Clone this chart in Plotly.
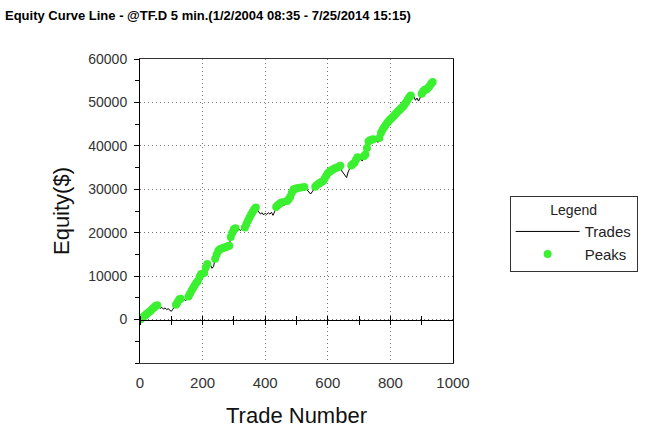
import plotly.graph_objects as go

trade_step = 5
equity = [
    0, 300, 600, 900, 1200, 1500, 1800, 2100, 2500, 2800,
    3100, 3300, 2900, 2600, 2800, 2400, 2700, 2300, 2500, 2100,
    1900, 2400, 3000, 3400, 4000, 4600, 4800, 4500, 4700, 4400,
    4600, 5300, 6000, 6700, 7300, 7900, 8500, 8900, 9800, 10500,
    10200, 10700, 12000, 12800, 12300, 12600, 11800, 12200, 14000, 15000,
    15800, 16200, 16300, 16500, 16600, 16700, 16900, 17000, 19000, 20000,
    20800, 21000, 20600, 20900, 20500, 20800, 20700, 21200, 22000, 22800,
    23500, 24200, 24800, 25400, 25800, 25200, 24700, 24300, 24600, 24100,
    24500, 24200, 24600, 24300, 24700, 24000, 24800, 25900, 26300, 26600,
    26900, 27000, 26200, 26500, 27300, 27700, 28300, 29200, 29900, 30100,
    30200, 30300, 30100, 30400, 30300, 30500, 30200, 29800, 29300, 28900,
    29400, 30000, 30600, 31000, 31200, 31500, 31700, 31900, 32500, 33100,
    33700, 34000, 34300, 34500, 34700, 34900, 35000, 35200, 35400, 34200,
    33600, 33000, 32700, 34000, 34800, 35500, 35800, 36100, 36800, 37400,
    36600, 37000, 36500, 37600, 38000, 39500, 41000, 41300, 41400, 41500,
    41000, 41200, 40800, 41800, 43000, 43700, 44300, 44800, 45300, 45700,
    46100, 46500, 46800, 47200, 47600, 48000, 48300, 48700, 49000, 49500,
    50000, 50600, 51200, 51600, 50800, 51300, 50500, 51000, 50300, 51100,
    52000, 52600, 52900, 53000, 53300, 53700, 54300, 54700,
]
trades = [i * trade_step for i in range(len(equity))]

x_ticks = [0, 200, 400, 600, 800, 1000]
x_tick_labels = ["0", "200", "400", "600", "800", "1000"]
y_ticks = [0, 10000, 20000, 30000, 40000, 50000, 60000]
y_tick_labels = ["0", "10000", "20000", "30000", "40000", "50000", "60000"]

# Peaks: new equity highs
peak_x, peak_y = [], []
running = float("-inf")
for t, e in zip(trades, equity):
    if e >= running:
        running = e
        peak_x.append(t)
        peak_y.append(e)

FONT = "Liberation Sans, Arial, sans-serif"
GREEN = "#3BF030"
GRID = "#777"

fig = go.Figure()
fig.add_trace(go.Scatter(x=trades, y=equity, mode="lines", name="Trades",
                         line=dict(color="black", width=1)))
fig.add_trace(go.Scatter(x=peak_x, y=peak_y, mode="markers", name="Peaks",
                         marker=dict(color=GREEN, size=8, line=dict(width=0))))

# zero line axis with tick marks crossing it
fig.add_trace(go.Scatter(x=[], y=[], xaxis="x2", showlegend=False))
fig.add_trace(go.Scatter(x=[], y=[], xaxis="x3", showlegend=False))

fig.update_layout(
    width=650, height=436,
    margin=dict(l=140, r=195, t=59, b=73),
    paper_bgcolor="white", plot_bgcolor="white",
    font=dict(family=FONT, color="#222"),
    title=dict(text="<b>Equity Curve Line - @TF.D 5 min.(1/2/2004 08:35 - 7/25/2014 15:15)</b>",
               x=5 / 650, xanchor="left", xref="container",
               y=1 - 15 / 436, yanchor="middle", yref="container",
               font=dict(size=13, color="black", family=FONT)),
    xaxis=dict(range=[0, 1000], tickvals=x_ticks, ticktext=x_tick_labels,
               showline=True, linecolor="#333",
               linewidth=1, mirror=True, ticks="", showgrid=True,
               gridcolor=GRID, griddash="1px,3px", gridwidth=1, zeroline=False,
               tickfont=dict(size=15, color="#333"), ticklabelstandoff=6,
               title=dict(text="Trade Number", font=dict(size=22, color="#111"), standoff=17),
               automargin=False),
    xaxis2=dict(range=[0, 1000], overlaying="x", anchor="free", position=1 / 7,
                showline=True, linecolor="black", linewidth=1, dtick=100,
                ticks="outside", ticklen=4, tickcolor="black",
                showticklabels=False, showgrid=False, zeroline=False),
    xaxis3=dict(range=[0, 1000], overlaying="x", anchor="free", position=1 / 7,
                side="top", showline=False, dtick=100,
                ticks="outside", ticklen=4, tickcolor="black",
                showticklabels=False, showgrid=False, zeroline=False),
    yaxis=dict(range=[-10000, 60000], tickvals=y_ticks, ticktext=y_tick_labels,
               showline=True, linecolor="black",
               linewidth=1, mirror=True, ticks="outside", ticklen=5, tickcolor="black",
               minor=dict(dtick=5000, tick0=0, ticks="outside", ticklen=4, tickcolor="black",
                          showgrid=False),
               showgrid=True, gridcolor=GRID, griddash="1px,3px", gridwidth=1,
               zeroline=False, tickfont=dict(size=14, color="#333"), ticklabelstandoff=4,
               title=dict(text="Equity($)", font=dict(size=22, color="#111"), standoff=12),
               automargin=False),
    legend=dict(x=(512 - 140) / 315, y=(363 - 196) / 304, xanchor="left", yanchor="top",
                bordercolor="#333", borderwidth=1, bgcolor="white",
                font=dict(size=15, color="#222"), itemwidth=64, tracegroupgap=0,
                title=dict(text="Legend", side="top center", font=dict(size=14, color="#222"))),
)

fig.write_html("out.html", config={"displayModeBar": False},
               post_script="document.body.style.margin='0';")
